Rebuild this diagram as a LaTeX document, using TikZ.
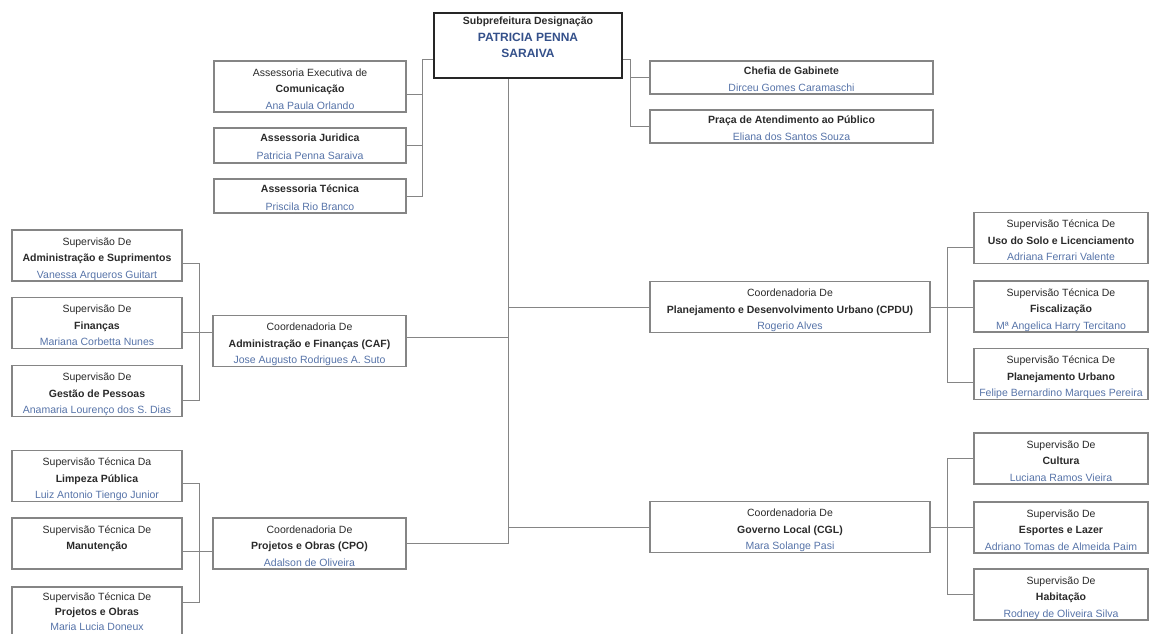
\documentclass[tikz,border=0pt]{standalone}
\usepackage{fontspec}
\setmainfont{Liberation Sans}
\definecolor{boxgray}{HTML}{858585}
\definecolor{textdark}{HTML}{2A2A2A}
\definecolor{nameblue}{HTML}{5673A8}
\definecolor{headblue}{HTML}{34508A}

\begin{document}
\begin{tikzpicture}[x=1pt,y=-1pt]

	\tikzset{
		unit/.style={
			draw=boxgray,
			rectangle,
			line width=1.2pt,
			inner sep=0pt
		},
		boxtext/.style={
			anchor=north,
			align=center,
			inner sep=0pt,
			yshift=-8pt,
			text=textdark,
			font=\fontsize{10.5}{16.5}\selectfont
		},
		headunit/.style={
			unit,
			draw=black!85,
			line width=2pt,
			minimum width=188pt,
			minimum height=65pt,
			align=center,
			inner sep=2pt,
			text=textdark,
			font=\fontsize{10.5}{16.5}\selectfont
		},
		assunit/.style={unit, minimum width=192pt},
		supunit/.style={unit, minimum width=170pt, minimum height=51pt},
		rsupunit/.style={unit, minimum width=174pt, minimum height=51pt},
		coordunit/.style={unit, minimum width=280pt, minimum height=51pt},
		link/.style={
			draw=boxgray,
			line width=1pt
		}
	}

	\clip (0,0) rectangle (1150,633);

	% SUBPREFEITURA
	\node[headunit] (top) at (528,45.5) {
		\textbf{Subprefeitura Designação}\\
		{\fontsize{12}{16.5}\selectfont\bfseries\color{headblue}PATRICIA PENNA}\\
		{\fontsize{12}{16.5}\selectfont\bfseries\color{headblue}SARAIVA}\\
		\mbox{}
	};

	% ASSESSORIAS
	\node[assunit, minimum height=51pt, label={[boxtext]north:{
		Assessoria Executiva de\\
		\textbf{Comunicação}\\
		\textcolor{nameblue}{Ana Paula Orlando}}}] (exec) at (310,86.5) {};
	\node[assunit, minimum height=35pt, label={[boxtext, yshift=1.5pt]north:{
		\textbf{Assessoria Juridica}\\[1pt]
		\textcolor{nameblue}{Patricia Penna Saraiva}}}] (jur) at (310,145.5) {};
	\node[assunit, minimum height=34pt, label={[boxtext, yshift=1.5pt]north:{
		\textbf{Assessoria Técnica}\\[1pt]
		\textcolor{nameblue}{Priscila Rio Branco}}}] (tec) at (310,196) {};

	% GABINETE
	\node[unit, minimum width=283pt, minimum height=33pt, label={[boxtext, yshift=2pt]north:{
		\textbf{Chefia de Gabinete}\\[1pt]
		\textcolor{nameblue}{Dirceu Gomes Caramaschi}}}] (chefia) at (791.5,77.5) {};
	\node[unit, minimum width=283pt, minimum height=33pt, label={[boxtext, yshift=2pt]north:{
		\textbf{Praça de Atendimento ao Público}\\[1pt]
		\textcolor{nameblue}{Eliana dos Santos Souza}}}] (praca) at (791.5,126.5) {};

	% CAF
	\node[unit, minimum width=193pt, minimum height=51pt, label={[boxtext]north:{
		Coordenadoria De\\
		\textbf{Administração e Finanças (CAF)}\\
		\textcolor{nameblue}{Jose Augusto Rodrigues A. Suto}}}] (caf) at (309.5,341) {};
	\node[supunit, label={[boxtext]north:{
		Supervisão De\\
		\textbf{Administração e Suprimentos}\\
		\textcolor{nameblue}{Vanessa Arqueros Guitart}}}] (adm) at (97,255.5) {};
	\node[supunit, label={[boxtext]north:{
		Supervisão De\\
		\textbf{Finanças}\\
		\textcolor{nameblue}{Mariana Corbetta Nunes}}}] (fin) at (97,323) {};
	\node[supunit, label={[boxtext]north:{
		Supervisão De\\
		\textbf{Gestão de Pessoas}\\
		\textcolor{nameblue}{Anamaria Lourenço dos S. Dias}}}] (ges) at (97,391) {};

	% CPO
	\node[unit, minimum width=193pt, minimum height=51pt, label={[boxtext]north:{
		Coordenadoria De\\
		\textbf{Projetos e Obras (CPO)}\\
		\textcolor{nameblue}{Adalson de Oliveira}}}] (cpo) at (309.5,543.5) {};
	\node[supunit, label={[boxtext]north:{
		Supervisão Técnica Da\\
		\textbf{Limpeza Pública}\\
		\textcolor{nameblue}{Luiz Antonio Tiengo Junior}}}] (lim) at (97,476) {};
	\node[supunit, label={[boxtext]north:{
		Supervisão Técnica De\\
		\textbf{Manutenção}}}] (man) at (97,543.5) {};
	\node[supunit, label={[boxtext, yshift=1.5pt]north:{
		Supervisão Técnica De\\[-1.5pt]
		\textbf{Projetos e Obras}\\[-1.5pt]
		\textcolor{nameblue}{Maria Lucia Doneux}}}] (pro) at (97,612.5) {};

	% CPDU
	\node[coordunit, label={[boxtext]north:{
		Coordenadoria De\\
		\textbf{Planejamento e Desenvolvimento Urbano (CPDU)}\\
		\textcolor{nameblue}{Rogerio Alves}}}] (cpdu) at (790,307) {};
	\node[rsupunit, label={[boxtext]north:{
		Supervisão Técnica De\\
		\textbf{Uso do Solo e Licenciamento}\\
		\textcolor{nameblue}{Adriana Ferrari Valente}}}] (uso) at (1061,238) {};
	\node[rsupunit, label={[boxtext]north:{
		Supervisão Técnica De\\
		\textbf{Fiscalização}\\
		\textcolor{nameblue}{Mª Angelica Harry Tercitano}}}] (fis) at (1061,306.5) {};
	\node[rsupunit, label={[boxtext]north:{
		Supervisão Técnica De\\
		\textbf{Planejamento Urbano}\\
		\textcolor{nameblue}{Felipe Bernardino Marques Pereira}}}] (pla) at (1061,374) {};

	% CGL
	\node[coordunit, label={[boxtext]north:{
		Coordenadoria De\\
		\textbf{Governo Local (CGL)}\\
		\textcolor{nameblue}{Mara Solange Pasi}}}] (cgl) at (790,527) {};
	\node[rsupunit, label={[boxtext]north:{
		Supervisão De\\
		\textbf{Cultura}\\
		\textcolor{nameblue}{Luciana Ramos Vieira}}}] (cul) at (1061,458.5) {};
	\node[rsupunit, label={[boxtext]north:{
		Supervisão De\\
		\textbf{Esportes e Lazer}\\
		\textcolor{nameblue}{Adriano Tomas de Almeida Paim}}}] (esp) at (1061,527.5) {};
	\node[rsupunit, label={[boxtext]north:{
		Supervisão De\\
		\textbf{Habitação}\\
		\textcolor{nameblue}{Rodney de Oliveira Silva}}}] (hab) at (1061,594.5) {};

	% BUS LINES
	\coordinate (trunk) at (508,0);
	\coordinate (abus) at (422,0);
	\coordinate (rbus) at (630,0);
	\coordinate (fbus) at (199,0);
	\coordinate (pbus) at (947,0);

	% TOP TO ASSESSORIAS AND GABINETE
	\draw[link] ([yshift=-13.5pt]top.west) -| (tec.east -| abus) -- (tec.east);
	\draw[link] ([yshift=-7.5pt]exec.east) -- ([yshift=-7.5pt]exec.east -| abus);
	\draw[link] (jur.east) -- (jur.east -| abus);
	\draw[link] ([yshift=-13.5pt]top.east) -| (praca.west -| rbus) -- (praca.west);
	\draw[link] (chefia.west) -- (chefia.west -| rbus);

	% TRUNK TO COORDENADORIAS
	\draw[link] (top.south -| trunk) -- (cpo.east -| trunk);
	\draw[link] ([yshift=4pt]caf.east) -- ([yshift=4pt]caf.east -| trunk);
	\draw[link] (cpo.east) -- (cpo.east -| trunk);
	\draw[link] (cpdu.west) -- (cpdu.west -| trunk);
	\draw[link] (cgl.west) -- (cgl.west -| trunk);

	% CAF TO SUPERVISOES
	\draw[link] ([yshift=-8pt]adm.east) -| ([yshift=-9pt]ges.east -| fbus) -- ([yshift=-9pt]ges.east);
	\draw[link] ([yshift=-9pt]fin.east) -- ([yshift=-9pt]fin.east -| caf.west);

	% CPO TO SUPERVISOES
	\draw[link] ([yshift=-7pt]lim.east) -| ([yshift=10pt]pro.east -| fbus) -- ([yshift=10pt]pro.east);
	\draw[link] ([yshift=-8pt]man.east) -- ([yshift=-8pt]man.east -| cpo.west);

	% CPDU TO SUPERVISOES
	\draw[link] ([yshift=-9pt]uso.west) -| ([yshift=-8pt]pla.west -| pbus) -- ([yshift=-8pt]pla.west);
	\draw[link] (cpdu.east) -- (cpdu.east -| fis.west);

	% CGL TO SUPERVISOES
	\draw[link] (cul.west) -| (hab.west -| pbus) -- (hab.west);
	\draw[link] (cgl.east) -- (cgl.east -| esp.west);

\end{tikzpicture}
\end{document}
